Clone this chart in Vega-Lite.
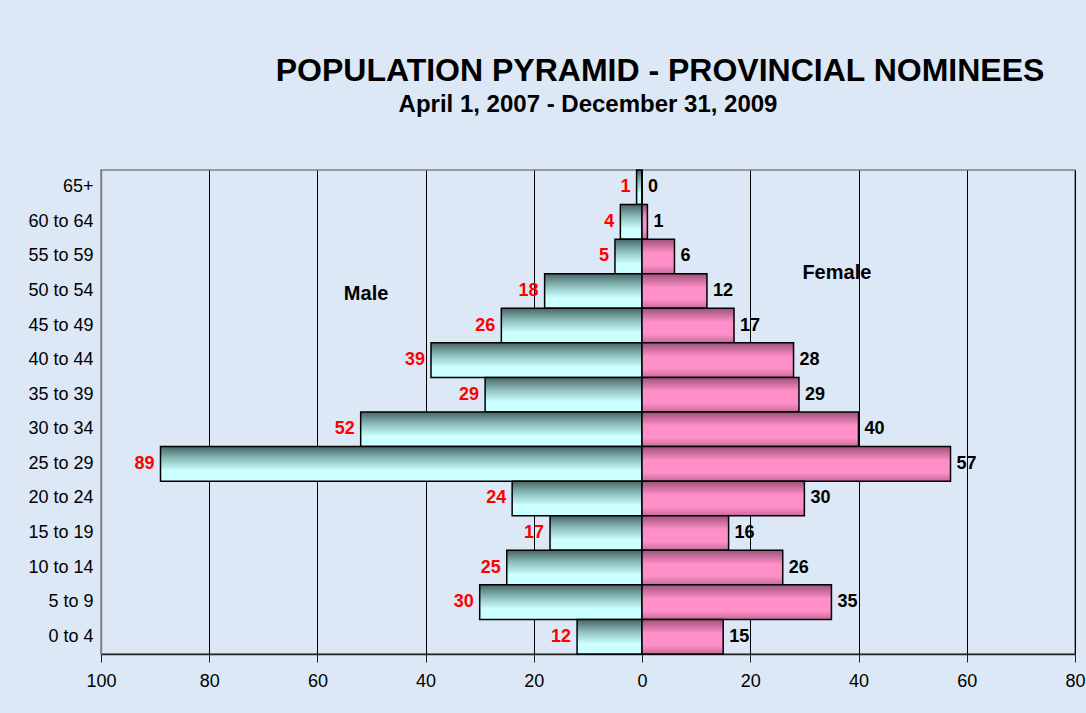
{
  "$schema": "https://vega.github.io/schema/vega-lite/v6.json",
  "width": 974,
  "height": 484,
  "autosize": {"type": "none"},
  "padding": {"left": 101, "top": 170, "right": 11, "bottom": 59},
  "background": "#dce8f6",
  "title": {
    "text": "POPULATION PYRAMID - PROVINCIAL NOMINEES",
    "subtitle": "April 1, 2007 - December 31, 2009",
    "fontSize": 32,
    "fontWeight": "bold",
    "color": "#000000",
    "subtitleFontSize": 24,
    "subtitleFontWeight": "bold",
    "subtitleColor": "#000000",
    "subtitlePadding": 5,
    "anchor": "middle",
    "dx": 72,
    "offset": 51,
    "encode": {"subtitle": {"update": {"dx": {"value": 0}}}}
  },
  "config": {
    "font": "Liberation Sans",
    "view": {"stroke": "#808080", "strokeWidth": 1.5}
  },
  "data": {
    "values": [
      {"age": "65+", "male": 1, "female": 0},
      {"age": "60 to 64", "male": 4, "female": 1},
      {"age": "55 to 59", "male": 5, "female": 6},
      {"age": "50 to 54", "male": 18, "female": 12},
      {"age": "45 to 49", "male": 26, "female": 17},
      {"age": "40 to 44", "male": 39, "female": 28},
      {"age": "35 to 39", "male": 29, "female": 29},
      {"age": "30 to 34", "male": 52, "female": 40},
      {"age": "25 to 29", "male": 89, "female": 57},
      {"age": "20 to 24", "male": 24, "female": 30},
      {"age": "15 to 19", "male": 17, "female": 16},
      {"age": "10 to 14", "male": 25, "female": 26},
      {"age": "5 to 9", "male": 30, "female": 35},
      {"age": "0 to 4", "male": 12, "female": 15}
    ]
  },
  "encoding": {
    "y": {
      "field": "age",
      "type": "nominal",
      "sort": ["65+", "60 to 64", "55 to 59", "50 to 54", "45 to 49", "40 to 44", "35 to 39", "30 to 34", "25 to 29", "20 to 24", "15 to 19", "10 to 14", "5 to 9", "0 to 4"],
      "scale": {"paddingInner": 0, "paddingOuter": 0},
      "axis": {
        "title": null,
        "ticks": false,
        "domainColor": "#808080",
        "domainWidth": 1.5,
        "labelFontSize": 18,
        "labelColor": "#000000",
        "labelPadding": 8
      }
    }
  },
  "layer": [
    {
      "encoding": {
        "x": {
          "field": "male",
          "type": "quantitative",
          "scale": {"domain": [0, 100], "range": [541, 0], "nice": false, "zero": true},
          "axis": {
            "orient": "bottom",
            "title": null,
            "values": [0, 20, 40, 60, 80, 100],
            "grid": true,
            "gridColor": "#000000",
            "gridOpacity": 1,
            "gridWidth": 1,
            "domainColor": "#222222",
            "domainWidth": 1.5,
            "tickColor": "#222222",
            "tickSize": 8,
            "labelFontSize": 18,
            "labelColor": "#000000",
            "labelPadding": 10,
            "labelFlush": false
          }
        }
      },
      "layer": [
        {
          "mark": {
            "type": "bar",
            "stroke": "#000000",
            "strokeWidth": 1.5,
            "color": {
              "gradient": "linear",
              "x1": 0, "y1": 0, "x2": 0, "y2": 1,
              "stops": [
                {"offset": 0, "color": "#466664"},
                {"offset": 0.35, "color": "#8cbdbc"},
                {"offset": 0.7, "color": "#ccffff"},
                {"offset": 1, "color": "#ccffff"}
              ]
            }
          }
        },
        {
          "mark": {"type": "text", "align": "right", "baseline": "middle", "dx": -6, "fontSize": 18, "fontWeight": "bold", "color": "#ff0000"},
          "encoding": {"text": {"field": "male", "type": "quantitative"}}
        },
        {
          "transform": [{"filter": "datum.age == '50 to 54'"}],
          "mark": {"type": "text", "align": "center", "baseline": "middle", "fontSize": 20, "fontWeight": "bold", "color": "#000000", "dy": 3},
          "encoding": {
            "x": {"datum": 51, "type": "quantitative"},
            "text": {"value": "Male"}
          }
        }
      ]
    },
    {
      "encoding": {
        "x": {
          "field": "female",
          "type": "quantitative",
          "scale": {"domain": [0, 80], "range": [541, 974], "nice": false, "zero": true},
          "axis": {
            "orient": "bottom",
            "title": null,
            "values": [20, 40, 60, 80],
            "grid": true,
            "gridColor": "#000000",
            "gridOpacity": 1,
            "gridWidth": 1,
            "domainColor": "#222222",
            "domainWidth": 1.5,
            "tickColor": "#222222",
            "tickSize": 8,
            "labelFontSize": 18,
            "labelColor": "#000000",
            "labelPadding": 10,
            "labelFlush": false
          }
        }
      },
      "layer": [
        {
          "mark": {
            "type": "bar",
            "stroke": "#000000",
            "strokeWidth": 1.5,
            "color": {
              "gradient": "linear",
              "x1": 0, "y1": 0, "x2": 0, "y2": 1,
              "stops": [
                {"offset": 0, "color": "#9e5279"},
                {"offset": 0.4, "color": "#ff8fc8"},
                {"offset": 0.75, "color": "#ff8fc8"},
                {"offset": 1, "color": "#c86a9c"}
              ]
            }
          }
        },
        {
          "mark": {"type": "text", "align": "left", "baseline": "middle", "dx": 6, "fontSize": 18, "fontWeight": "bold", "color": "#000000"},
          "encoding": {"text": {"field": "female", "type": "quantitative"}}
        },
        {
          "transform": [{"filter": "datum.age == '50 to 54'"}],
          "mark": {"type": "text", "align": "center", "baseline": "middle", "fontSize": 20, "fontWeight": "bold", "color": "#000000", "dy": -18},
          "encoding": {
            "x": {"datum": 36, "type": "quantitative"},
            "text": {"value": "Female"}
          }
        }
      ]
    }
  ],
  "resolve": {"scale": {"x": "independent"}, "axis": {"x": "independent"}}
}
